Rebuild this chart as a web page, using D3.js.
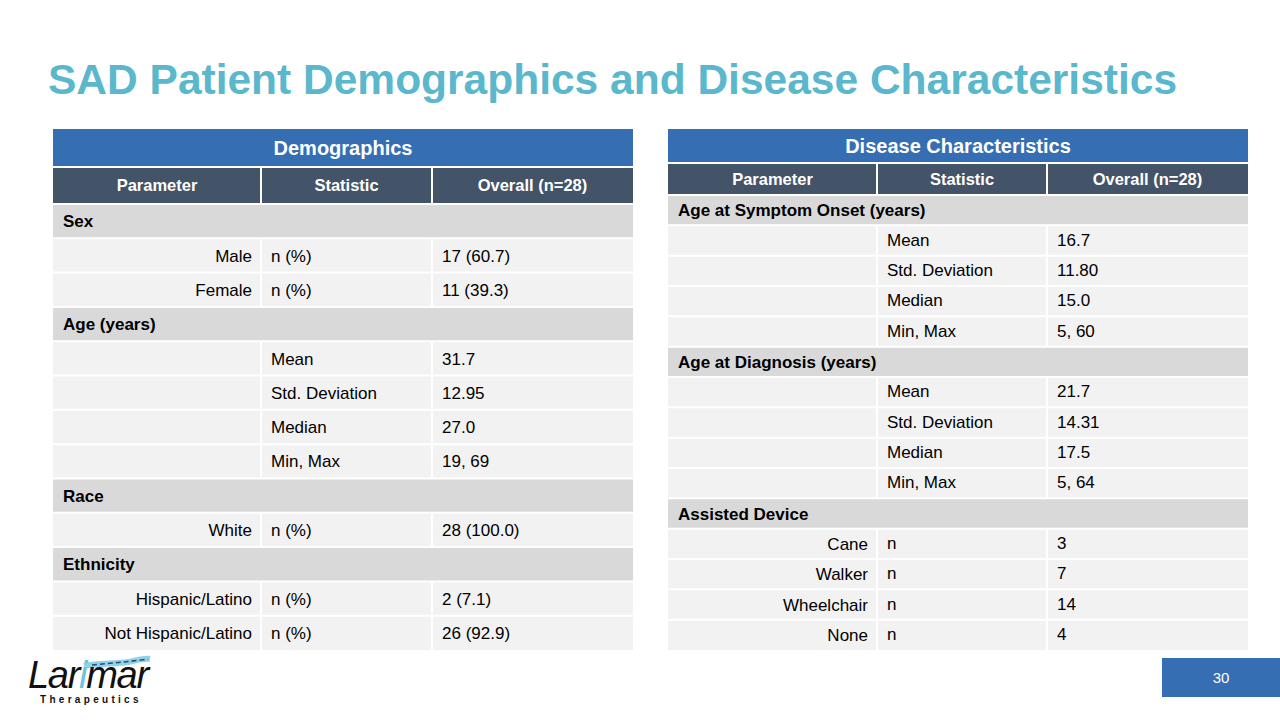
<!DOCTYPE html>
<html><head><meta charset="utf-8">
<script src="https://cdn.jsdelivr.net/npm/d3@7"></script>
<style>body{margin:0;background:#fff}svg{display:block;font-family:"Liberation Sans",Arial,sans-serif}</style>
</head><body>
<script>
// ---- data ----
const titleText = "SAD Patient Demographics and Disease Characteristics";
const headers = ["Parameter", "Statistic", "Overall (n=28)"];

const demoTitle = "Demographics";
const demoParams = ["Sex","Male","Female","Age (years)","","","","","Race","White","Ethnicity","Hispanic/Latino","Not Hispanic/Latino"];
const demoStats  = ["","n (%)","n (%)","","Mean","Std. Deviation","Median","Min, Max","","n (%)","","n (%)","n (%)"];
const demoValues = ["","17 (60.7)","11 (39.3)","","31.7","12.95","27.0","19, 69","","28 (100.0)","","2 (7.1)","26 (92.9)"];
const demoGroup  = [1,0,0,1,0,0,0,0,1,0,1,0,0];

const disTitle = "Disease Characteristics";
const disParams = ["Age at Symptom Onset (years)","","","","","Age at Diagnosis (years)","","","","","Assisted Device","Cane","Walker","Wheelchair","None"];
const disStats  = ["","Mean","Std. Deviation","Median","Min, Max","","Mean","Std. Deviation","Median","Min, Max","","n","n","n","n"];
const disValues = ["","16.7","11.80","15.0","5, 60","","21.7","14.31","17.5","5, 64","","3","7","14","4"];
const disGroup  = [1,0,0,0,0,1,0,0,0,0,1,0,0,0,0];

const pageNumber = "30";

// ---- drawing ----
const W = 1280, H = 720;
const svg = d3.select("body").append("svg").attr("width", W).attr("height", H);

svg.append("text").attr("x", 48).attr("y", 94)
  .attr("font-size", 42.5).attr("font-weight", "bold").attr("fill", "#5AB7CC")
  .text(titleText);

const C = {title:"#356EB3", head:"#435368", group:"#D9D9D9", row:"#F2F2F2"};

function drawTable(cfg) {
  const g = svg.append("g");
  const x = d3.scaleOrdinal().domain([0,1,2]).range(cfg.cols);
  const colW = [cfg.cols[1]-cfg.cols[0], cfg.cols[2]-cfg.cols[1], cfg.right-cfg.cols[2]];
  const tw = cfg.right - cfg.cols[0];
  g.append("rect").attr("x", cfg.cols[0]).attr("y", cfg.titleY).attr("width", tw).attr("height", cfg.titleH).attr("fill", C.title);
  g.append("text").attr("x", cfg.cols[0] + tw/2).attr("y", cfg.titleY + cfg.titleH/2).attr("dy", "0.36em")
    .attr("text-anchor", "middle").attr("fill", "#fff").attr("font-weight", "bold").attr("font-size", 20).text(cfg.title);
  headers.forEach((h, i) => {
    g.append("rect").attr("x", x(i)).attr("y", cfg.headY).attr("width", colW[i]).attr("height", cfg.headH).attr("fill", C.head);
    g.append("text").attr("x", x(i) + colW[i]/2).attr("y", cfg.headY + cfg.headH/2).attr("dy", "0.36em")
      .attr("text-anchor", "middle").attr("fill", "#fff").attr("font-weight", "bold").attr("font-size", 16.5).text(h);
  });
  const idx = d3.range(cfg.params.length);
  const y = d3.scaleBand().domain(idx).range([cfg.bodyY, cfg.bodyY2]);
  idx.forEach(i => {
    if (cfg.group[i]) {
      g.append("rect").attr("x", cfg.cols[0]).attr("y", y(i)).attr("width", tw).attr("height", y.bandwidth()).attr("fill", C.group);
      g.append("text").attr("x", cfg.cols[0] + 10).attr("y", y(i) + y.bandwidth()/2).attr("dy", "0.36em")
        .attr("font-weight", "bold").attr("font-size", 17).attr("fill", "#000").text(cfg.params[i]);
    } else {
      [0,1,2].forEach(c => {
        g.append("rect").attr("x", x(c)).attr("y", y(i)).attr("width", colW[c]).attr("height", y.bandwidth()).attr("fill", C.row);
      });
      g.append("text").attr("x", cfg.cols[1] - 9).attr("y", y(i) + y.bandwidth()/2).attr("dy", "0.36em")
        .attr("text-anchor", "end").attr("font-size", 17).attr("fill", "#000").text(cfg.params[i]);
      g.append("text").attr("x", cfg.cols[1] + 10).attr("y", y(i) + y.bandwidth()/2 + cfg.shift).attr("dy", "0.36em")
        .attr("font-size", 17).attr("fill", "#000").text(cfg.stats[i]);
      g.append("text").attr("x", cfg.cols[2] + 10).attr("y", y(i) + y.bandwidth()/2 + cfg.shift).attr("dy", "0.36em")
        .attr("font-size", 17).attr("fill", "#000").text(cfg.values[i]);
    }
  });
  const lines = g.append("g").attr("stroke", "#fff").attr("stroke-width", 2);
  idx.forEach(i => {
    lines.append("line").attr("x1", cfg.cols[0]).attr("x2", cfg.right).attr("y1", y(i)).attr("y2", y(i));
  });
  lines.append("line").attr("x1", cfg.cols[0]).attr("x2", cfg.right).attr("y1", cfg.headY).attr("y2", cfg.headY);
  [1,2].forEach(c => {
    lines.append("line").attr("x1", cfg.cols[c]).attr("x2", cfg.cols[c]).attr("y1", cfg.headY).attr("y2", cfg.headY + cfg.headH);
    idx.forEach(i => {
      if (!cfg.group[i]) lines.append("line").attr("x1", cfg.cols[c]).attr("x2", cfg.cols[c]).attr("y1", y(i)).attr("y2", y(i) + y.bandwidth());
    });
  });
}

drawTable({title: demoTitle, params: demoParams, stats: demoStats, values: demoValues, group: demoGroup,
  cols: [53, 261, 432], right: 633, titleY: 129, titleH: 37, headY: 167, headH: 37, bodyY: 204, bodyY2: 650, shift: 0});
drawTable({title: disTitle, params: disParams, stats: disStats, values: disValues, group: disGroup,
  cols: [668, 877, 1047], right: 1248, titleY: 129, titleH: 33, headY: 163, headH: 32, bodyY: 195, bodyY2: 650, shift: -1});

svg.append("rect").attr("x", 1162).attr("y", 658).attr("width", 118).attr("height", 39).attr("fill", "#356EB3");
svg.append("text").attr("x", 1221).attr("y", 678).attr("dy", "0.36em").attr("text-anchor", "middle")
  .attr("fill", "#fff").attr("font-size", 15).text(pageNumber);

// logo
const logo = svg.append("g");
logo.append("path").attr("d", "M84,666 C100,663 115,664 128,662 C138,660 145,658 150,659")
  .attr("fill", "none").attr("stroke", "#8FD3E6").attr("stroke-width", 6);
logo.append("path").attr("d", "M92,665 C110,663 128,662 148,659").attr("fill", "none").attr("stroke", "#2a4c7a")
  .attr("stroke-width", 1.6).attr("stroke-dasharray", "5,3");
const lt = logo.append("text").attr("x", 28).attr("y", 688).attr("font-size", 38).attr("font-style", "italic")
  .attr("fill", "#111").attr("letter-spacing", -1.3);
lt.append("tspan").text("Lar");
lt.append("tspan").attr("fill", "#6CC5DC").text("i");
lt.append("tspan").text("mar");
logo.append("text").attr("x", 40).attr("y", 703).attr("font-size", 10).attr("font-weight", "bold")
  .attr("letter-spacing", 3.3).attr("fill", "#111").text("Therapeutics");
</script>
</body></html>
